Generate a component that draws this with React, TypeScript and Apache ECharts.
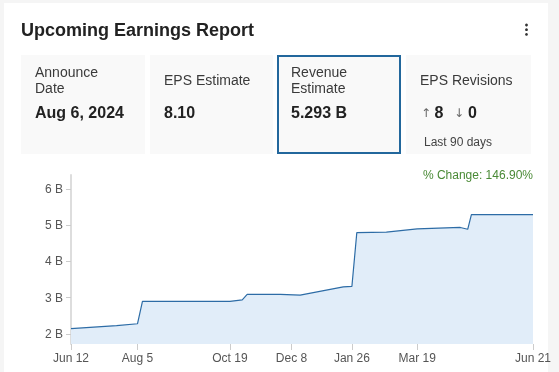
import React, { useEffect, useRef } from "react";
import * as echarts from "echarts";

// ---- data ----
const revisionDates = [
  "2023-06-12", "2023-07-19", "2023-08-05", "2023-08-09", "2023-10-19",
  "2023-10-29", "2023-11-02", "2023-11-29", "2023-12-15", "2024-01-19",
  "2024-01-26", "2024-01-30", "2024-02-23", "2024-03-19", "2024-04-23",
  "2024-04-29", "2024-05-02", "2024-06-21",
];
const revenueEstimates = [
  2.144, 2.23, 2.28, 2.9, 2.9, 2.94, 3.09, 3.09, 3.07, 3.3, 3.31, 4.8, 4.81,
  4.9, 4.94, 4.89, 5.293, 5.293,
];
const xTickDates = [
  "2023-06-12", "2023-08-05", "2023-10-19", "2023-12-08", "2024-01-26",
  "2024-03-19", "2024-06-21",
];
const yTickValues = [2, 3, 4, 5, 6];
const cards = [
  { label: ["Announce", "Date"], value: "Aug 6, 2024" },
  { label: ["EPS Estimate"], value: "8.10" },
  { label: ["Revenue", "Estimate"], value: "5.293 B" },
  { label: ["EPS Revisions"], value: "" },
];
const revisionsUp = "8";
const revisionsDown = "0";
const revisionsNote = "Last 90 days";
const titleText = "Upcoming Earnings Report";
const changeText = "% Change: 146.90%";

const MONTHS = ["Jan", "Feb", "Mar", "Apr", "May", "Jun", "Jul", "Aug", "Sep", "Oct", "Nov", "Dec"];
const DAY = 86400000;
// day number (UTC) for a date string
const toDay = (s: string) => {
  const [y, m, d] = s.split("-").map(Number);
  return Date.UTC(y, m - 1, d) / DAY;
};
const FONT = '"Liberation Sans", Arial, sans-serif';

export default function App() {
  const ref = useRef<HTMLDivElement>(null);
  useEffect(() => {
    if (!ref.current) return;
    const chart = echarts.init(ref.current, undefined, { renderer: "svg" });

    const boxX = [21, 150, 277, 406];
    const boxW = [124, 123, 124, 125];
    const graphics: any[] = [
      { type: "rect", z: -10, shape: { x: 0, y: 0, width: 559, height: 372 }, style: { fill: "#f5f5f5" }, silent: true },
      { type: "rect", z: -9, shape: { x: 4, y: 3, width: 544, height: 380 }, style: { fill: "#ffffff" }, silent: true },
      {
        type: "text", x: 21, y: 30,
        style: { text: titleText, fontSize: 18, fontWeight: "bold", fontFamily: FONT, fill: "#222", verticalAlign: "middle" },
      },
      { type: "circle", shape: { cx: 526.5, cy: 25, r: 1.4 }, style: { fill: "#333" } },
      { type: "circle", shape: { cx: 526.5, cy: 29.7, r: 1.4 }, style: { fill: "#333" } },
      { type: "circle", shape: { cx: 526.5, cy: 34.4, r: 1.4 }, style: { fill: "#333" } },
    ];
    cards.forEach((c, i) => {
      const x = boxX[i];
      const isSel = i === 2;
      graphics.push({
        type: "rect",
        z: -5,
        shape: isSel ? { x: x + 1, y: 56, width: boxW[i] - 2, height: 97 } : { x, y: 55, width: boxW[i], height: 99 },
        style: isSel ? { fill: "#f9f9f9", stroke: "#22679c", lineWidth: 2 } : { fill: "#f9f9f9" },
        silent: true,
      });
      const tx = x + 14;
      if (c.label.length === 2) {
        c.label.forEach((l, j) => {
          graphics.push({
            type: "text", x: tx, y: 72 + j * 16,
            style: { text: l, fontSize: 14, fontFamily: FONT, fill: "#3a3a3a", verticalAlign: "middle" },
          });
        });
      } else {
        graphics.push({
          type: "text", x: tx, y: 80,
          style: { text: c.label[0], fontSize: 14, fontFamily: FONT, fill: "#3a3a3a", verticalAlign: "middle" },
        });
      }
      if (c.value) {
        graphics.push({
          type: "text", x: tx, y: 112,
          style: { text: c.value, fontSize: 16, fontWeight: "bold", fontFamily: FONT, fill: "#222", verticalAlign: "middle" },
        });
      }
    });
    graphics.push(
      { type: "text", x: 421, y: 113, style: { text: "↑", fontSize: 12, fontFamily: '"DejaVu Sans", sans-serif', fill: "#666", verticalAlign: "middle" } },
      { type: "text", x: 434.5, y: 112, style: { text: revisionsUp, fontSize: 16, fontWeight: "bold", fontFamily: FONT, fill: "#222", verticalAlign: "middle" } },
      { type: "text", x: 454, y: 113, style: { text: "↓", fontSize: 12, fontFamily: '"DejaVu Sans", sans-serif', fill: "#666", verticalAlign: "middle" } },
      { type: "text", x: 468, y: 112, style: { text: revisionsDown, fontSize: 16, fontWeight: "bold", fontFamily: FONT, fill: "#222", verticalAlign: "middle" } },
      { type: "text", x: 424, y: 141.5, style: { text: revisionsNote, fontSize: 12, fontFamily: FONT, fill: "#444", verticalAlign: "middle" } },
      { type: "text", x: 533, y: 174.5, style: { text: changeText, fontSize: 12, fontFamily: FONT, fill: "#4a8a36", align: "right", verticalAlign: "middle" } },
    );

    const seriesData = revisionDates.map((d, i) => [toDay(d), revenueEstimates[i]]);
    const xTicks = xTickDates.map(toDay);

    chart.setOption({
      animation: false,
      graphic: graphics,
      grid: { left: 71, right: 26, top: 175, bottom: 28, containLabel: false },
      xAxis: {
        type: "value",
        min: xTicks[0],
        max: xTicks[xTicks.length - 1],
        axisLine: { show: false },
        splitLine: { show: false },
        axisTick: {
          show: true,
          customValues: xTicks,
          length: 6,
          lineStyle: { color: "#cccccc", width: 1 },
        },
        axisLabel: {
          customValues: xTicks,
          color: "#555",
          fontSize: 12,
          fontFamily: FONT,
          margin: 8,
          hideOverlap: false,
          showMinLabel: true,
          showMaxLabel: true,
          formatter: (v: number) => {
            const d = new Date(Math.round(v) * DAY);
            return `${MONTHS[d.getUTCMonth()]} ${d.getUTCDate()}`;
          },
        },
      },
      yAxis: {
        type: "value",
        min: 1.72,
        max: 6.39,
        axisLine: { show: true, lineStyle: { color: "#dddddd", width: 2 } },
        splitLine: { show: false },
        axisTick: {
          show: true,
          customValues: yTickValues,
          length: 5,
          lineStyle: { color: "#cccccc", width: 1 },
        },
        axisLabel: {
          customValues: yTickValues,
          color: "#555",
          fontSize: 12,
          fontFamily: FONT,
          margin: 8,
          showMinLabel: true,
          showMaxLabel: true,
          formatter: (v: number) => `${v} B`,
        },
      },
      series: [
        {
          type: "line",
          data: seriesData,
          showSymbol: false,
          symbol: "none",
          lineStyle: { color: "#2d6ca6", width: 1.2 },
          areaStyle: { color: "#e1edf9", opacity: 1, origin: "start" },
          silent: true,
        },
      ],
    });
    return () => chart.dispose();
  }, []);
  return (
    <div
      ref={ref}
      style={{ position: "fixed", left: 0, top: 0, width: 559, height: 372 }}
    />
  );
}
